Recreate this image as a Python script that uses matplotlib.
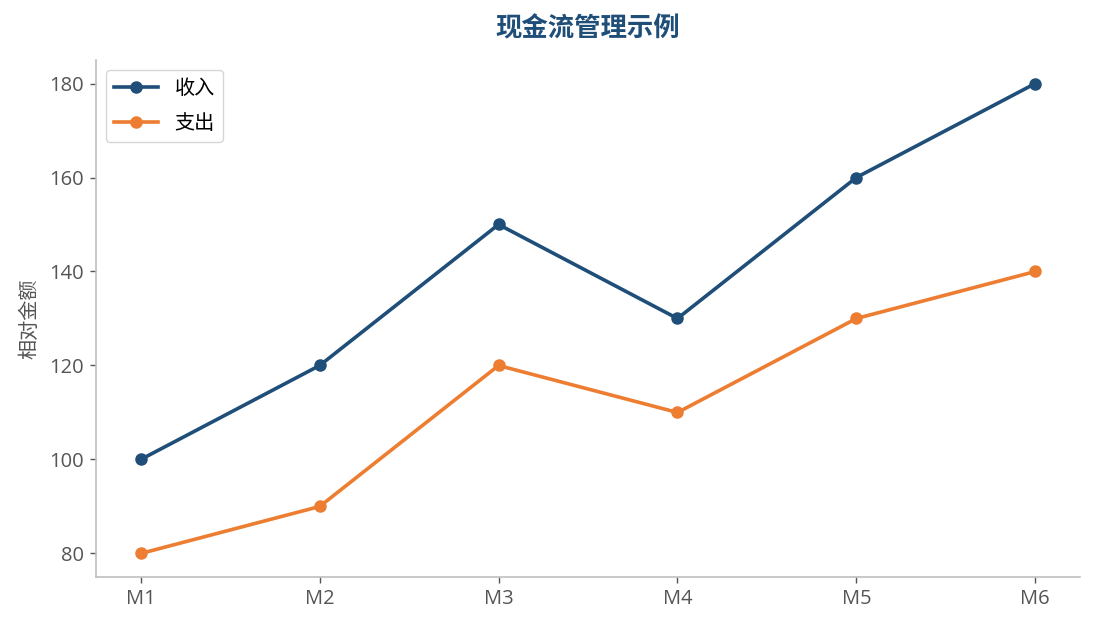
import matplotlib
matplotlib.use("Agg")
import matplotlib.pyplot as plt

months = ["M1", "M2", "M3", "M4", "M5", "M6"]
income = [100, 120, 150, 130, 160, 180]
expense = [80, 90, 120, 110, 130, 140]
series_names = ["收入", "支出"]
title = "现金流管理示例"
ylabel = "相对金额"

plt.rcParams['font.family'] = ['Open Sans', 'Noto Sans CJK SC', 'DejaVu Sans']
cjk = ['Noto Sans CJK SC', 'DejaVu Sans']

fig = plt.figure(figsize=(10.95, 6.29), dpi=100)
ax = fig.add_axes([0.0877, 0.0827, 0.8986, 0.8219])

x = list(range(len(months)))
ax.plot(x, income, color="#1f4e79", lw=2.6, marker="o", ms=8, label=series_names[0])
ax.plot(x, expense, color="#ed7d31", lw=2.6, marker="o", ms=8, label=series_names[1])

ax.set_xticks(x)
ax.set_xticklabels(months)
ax.set_xlim(-0.25, 5.25)
ax.set_ylim(75, 185)
ax.set_yticks([80, 100, 120, 140, 160, 180])

for s in ["top", "right"]:
    ax.spines[s].set_visible(False)
for s in ["left", "bottom"]:
    ax.spines[s].set_color("#bfbfbf")
    ax.spines[s].set_linewidth(1.2)
ax.tick_params(axis="both", colors="#555555", labelsize=14.5, length=4, width=1,
               labelcolor="#555555", pad=5)

ax.set_ylabel(ylabel, fontsize=14.5, color="#555555", family=cjk, labelpad=6)
ax.set_title(title, fontsize=19, fontweight="bold", color="#1f4e79", pad=17, family=cjk)

leg = ax.legend(loc="upper left", frameon=True, prop={'family': cjk, 'size': 14.5},
                borderaxespad=0.5, handlelength=2.2, labelspacing=0.7)
leg.get_frame().set_edgecolor("#cccccc")

fig.savefig("out.png", dpi=100)
